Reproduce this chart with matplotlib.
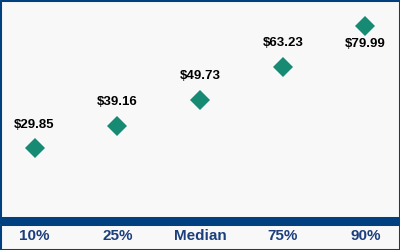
import matplotlib
matplotlib.use("Agg")
import matplotlib.pyplot as plt
from matplotlib.patches import Rectangle

categories = ["10%", "25%", "Median", "75%", "90%"]
values = [29.85, 39.16, 49.73, 63.23, 79.99]
labels = ["$29.85", "$39.16", "$49.73", "$63.23", "$79.99"]

plt.rcParams['font.family'] = ['Liberation Sans', 'DejaVu Sans']

BG = "#f8f8f8"
NAVY = "#004080"
TEAL = "#168a72"

fig = plt.figure(figsize=(4, 2.5), dpi=100, facecolor=BG)
ax = fig.add_axes([0, 28.6/250, 1, 221.4/250])
ax.set_facecolor(BG)
x = list(range(len(categories)))
ax.plot(x, values, linestyle='none', marker='D', markersize=10,
        color=TEAL, markeredgewidth=0)
ax.set_xlim(-0.417, 4.417)
ax.set_ylim(0, 90.5)

for i, (v, lab) in enumerate(zip(values, labels)):
    dy = -13.3 if i == len(values) - 1 else 17
    ax.annotate(lab, (i, v), xytext=(0, dy), textcoords='offset points',
                ha='center', va='center', fontsize=9.5, fontweight='bold', color='black')

for s in ['top', 'left', 'right']:
    ax.spines[s].set_visible(False)
ax.spines['bottom'].set_color(NAVY)
ax.spines['bottom'].set_linewidth(6.5)
ax.set_yticks([])
ax.set_xticks(x)
ax.set_xticklabels(categories, fontsize=11, fontweight='bold', color="#1c3f7c")
ax.tick_params(axis='x', length=0, pad=5.5)

fig.patches.append(Rectangle((0, 0), 1, 1, transform=fig.transFigure,
                             fill=False, edgecolor=NAVY, linewidth=2.2, zorder=10))

fig.savefig("out.png", dpi=100, facecolor=BG)
